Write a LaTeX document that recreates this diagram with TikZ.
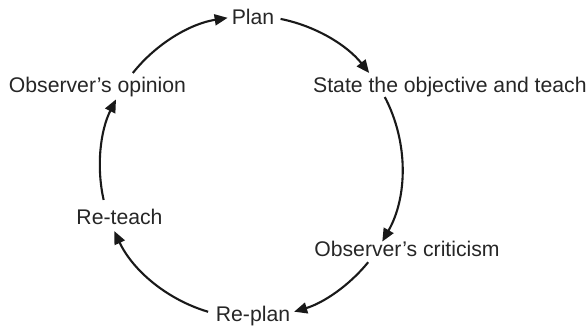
\documentclass[tikz,border=0pt]{standalone}
\usepackage{fontspec}
\setmainfont{Liberation Sans}
\usetikzlibrary{arrows.meta}
\def\rad{151}
\tikzset{
	stage/.style={anchor=base, inner sep=0, text=black!85, font=\fontsize{21.2}{25}\selectfont},
	cyc/.style={line width=2.1pt, color=black!90, -{Triangle[length=13pt, width=11pt]}}
}

\begin{document}
\begin{tikzpicture}[x=1pt, y=1pt]
			%%%%% START %%%%%
			
			\useasboundingbox (0, 0) rectangle (586, 329);
			\coordinate (ctr) at (251, 162);
			
			\node[stage] (plan) at (253, 304) {Plan};
			\node[stage, anchor=base west] (state) at (313, 236) {State the objective and teach};
			\node[stage] (criticism) at (407, 72) {Observer's criticism};
			\node[stage] (replan) at (253, 7) {Re-plan};
			\node[stage] (reteach) at (119.5, 104) {Re-teach};
			\node[stage] (opinion) at (97.5, 236) {Observer's opinion};
			
			\path (ctr) ++(141.5:\rad) coordinate (s1);
			\path (ctr) ++(78.7:\rad) coordinate (s2);
			\path (ctr) ++(27.6:\rad) coordinate (s3);
			\path (ctr) ++(-39.1:\rad) coordinate (s4);
			\path (ctr) ++(-106.5:\rad) coordinate (s5);
			\path (ctr) ++(-167.4:\rad) coordinate (s6);
			
			\draw[cyc] (s1) arc[start angle=141.5, end angle=98.9, radius=\rad];
			\draw[cyc] (s2) arc[start angle=78.7, end angle=38.5, radius=\rad];
			\draw[cyc] (s3) arc[start angle=27.6, end angle=-29.6, radius=\rad];
			\draw[cyc] (s4) arc[start angle=-39.1, end angle=-73.4, radius=\rad];
			\draw[cyc] (s5) arc[start angle=-106.5, end angle=-154.9, radius=\rad];
			\draw[cyc] (s6) arc[start angle=-167.4, end angle=-206.6, radius=\rad];
			
			%%%%% END %%%%%
\end{tikzpicture}
\end{document}
